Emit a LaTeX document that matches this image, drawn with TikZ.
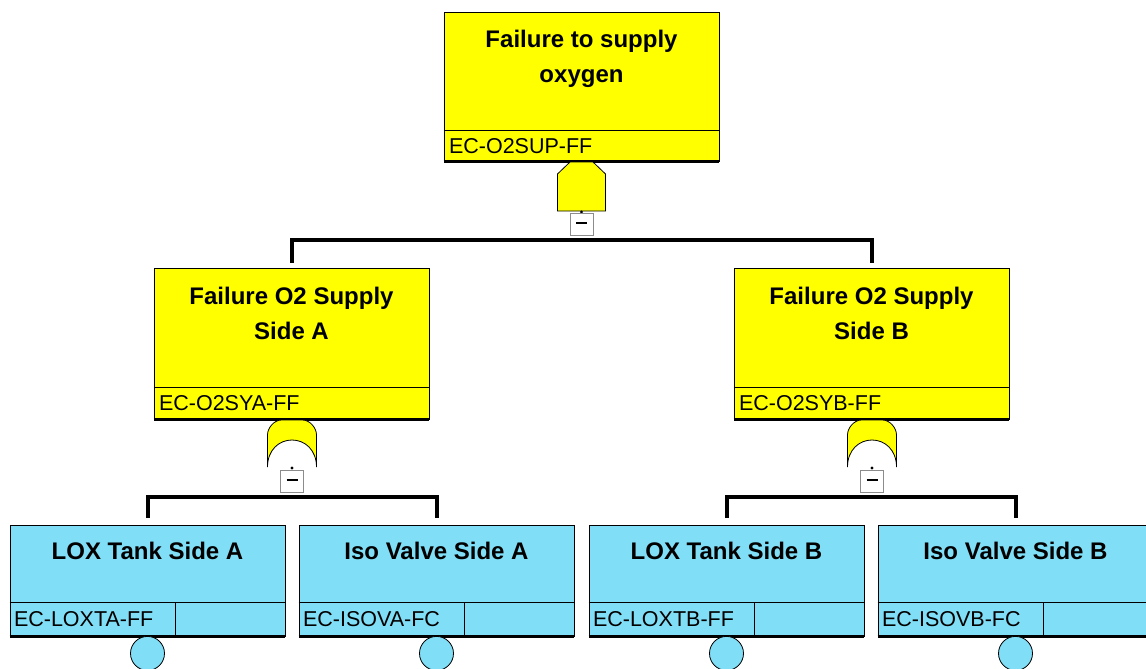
\documentclass[tikz,border=0pt]{standalone}
\usepackage{fontspec}
\setmainfont{Liberation Sans}
\definecolor{evyellow}{RGB}{255,255,0}
\definecolor{evblue}{RGB}{128,222,246}

\begin{document}
\begin{tikzpicture}[x=1pt,y=-1pt,line width=0.8pt,
  evbox/.style={draw,inner sep=0pt,minimum width=275pt},
  ttl/.style={align=center,font=\fontsize{24}{35}\selectfont\bfseries,inner sep=0pt},
  code/.style={anchor=west,font=\fontsize{21.5}{24}\selectfont,inner sep=0pt},
  gate/.style={draw,fill=evyellow,line width=0.8pt},
  minus/.style={draw=black!45,fill=white,minimum width=23pt,minimum height=22pt,inner sep=0pt},
  bar/.style={line width=4pt},
  basicev/.style={draw,circle,fill=evblue,minimum size=34pt,inner sep=0pt}]
\useasboundingbox (0,0) rectangle (1146,669);
% ================= top event =================
\node[evbox,fill=evyellow,minimum height=149pt] (top) at (581.5,86.5) {};
\node[ttl] (topT) at ([yshift=-47.5pt]top.north) {Failure to supply\\oxygen};
\draw ([yshift=31pt]top.south west) -- ([yshift=31pt]top.south east);
\node[code] (topC) at ([xshift=5pt,yshift=15.5pt]top.south west) {EC-O2SUP-FF};
\draw[line width=2.5pt] (top.south west) -- (top.south east);
% AND gate
\begin{scope}[shift={(581.5,162)}]
  \draw[gate] (-11.5,0) -- (11.5,0) -- (24,12) -- (24,49) -- (-24,49) -- (-24,12) -- cycle;
  \fill (0,50) circle (1.6pt);
\end{scope}
\node[minus] (topM) at (581.5,224) {\rule[0.35ex]{11pt}{1.3pt}};
\coordinate (barT) at (581.5,240);
% ================= intermediate events =================
\foreach \x/\nm/\sd/\cd in {291.5/sideA/Side A/EC-O2SYA-FF, 871.5/sideB/Side B/EC-O2SYB-FF}{
  \node[evbox,fill=evyellow,minimum height=151pt] (\nm) at (\x,343.5) {};
  \node[ttl] (\nm-t) at ([yshift=-45.5pt]\nm.north) {Failure O2 Supply\\\sd};
  \draw ([yshift=32pt]\nm.south west) -- ([yshift=32pt]\nm.south east);
  \node[code] (\nm-c) at ([xshift=5pt,yshift=16pt]\nm.south west) {\cd};
  \draw[line width=2.5pt] (\nm.south west) -- (\nm.south east);
  % OR gate
  \begin{scope}[shift={(\x+0.5,420)}]
    \draw[gate] (-10.5,0) -- (10.5,0) .. controls (18,0) and (24.5,8) .. (24.5,15)
      -- (24.5,47) .. controls (24.5,30) and (13,20) .. (0,20)
      .. controls (-13,20) and (-24.5,30) .. (-24.5,47)
      -- (-24.5,15) .. controls (-24.5,8) and (-18,0) .. (-10.5,0) -- cycle;
    \fill (0,48) circle (1.6pt);
  \end{scope}
  \node[minus] (\nm-m) at (\x+0.5,481) {\rule[0.35ex]{11pt}{1.3pt}};
}
\draw[bar] ([yshift=5pt]sideA.north) |- (barT) -| ([yshift=5pt]sideB.north);
% ================= basic events =================
\foreach \x/\nm/\ttl/\cd in {147.5/loxA/LOX Tank Side A/EC-LOXTA-FF,
    436.5/isoA/Iso Valve Side A/EC-ISOVA-FC,
    726.5/loxB/LOX Tank Side B/EC-LOXTB-FF,
    1015.5/isoB/Iso Valve Side B/EC-ISOVB-FC}{
  \node[evbox,fill=evblue,minimum height=111pt] (\nm) at (\x,580.5) {};
  \node[ttl] (\nm-t) at ([yshift=-26pt]\nm.north) {\ttl};
  \draw ([yshift=34pt]\nm.south west) -- ([yshift=34pt]\nm.south east);
  \draw ([xshift=166pt,yshift=34pt]\nm.south west) -- ([xshift=166pt]\nm.south west);
  \node[code] (\nm-c) at ([xshift=4pt,yshift=17pt]\nm.south west) {\cd};
  \draw[line width=2.5pt] (\nm.south west) -- (\nm.south east);
  \node[basicev] (\nm-e) at ([yshift=-17pt]\nm.south) {};
}
\coordinate (barA) at (292,497);
\coordinate (barB) at (872,497);
\draw[bar] ([yshift=7pt]loxA.north) |- (barA) -| ([yshift=7pt]isoA.north);
\draw[bar] ([yshift=7pt]loxB.north) |- (barB) -| ([yshift=7pt]isoB.north);
\end{tikzpicture}
\end{document}
